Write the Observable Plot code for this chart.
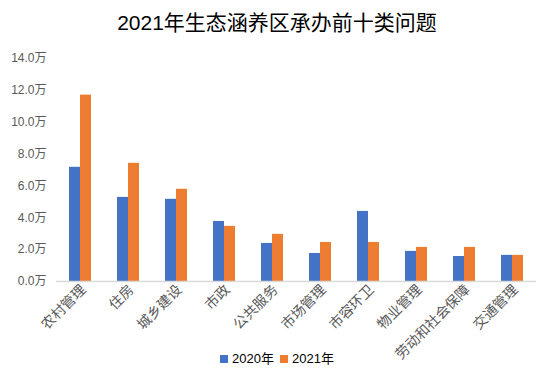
<!DOCTYPE html>
<html>
<head>
<meta charset="utf-8">
<script src="https://cdn.jsdelivr.net/npm/d3@7"></script>
<script src="https://cdn.jsdelivr.net/npm/@observablehq/plot@0.6"></script>
<style>
  html, body { margin: 0; padding: 0; background: #fff; }
  body { width: 554px; height: 381px; position: relative; overflow: hidden;
         font-family: "Liberation Sans", "Noto Sans CJK SC", sans-serif; }
  #title { height: 45px; line-height: 46px; text-align: center; font-size: 21px; color: #000; }
  #legend { position: absolute; left: 0; width: 554px; top: 350px; text-align: center;
            font-size: 13px; color: #000; line-height: 18px; }
  #legend span.sw { display: inline-block; width: 8px; height: 8px; margin-right: 4px; vertical-align: 0px; }
  #legend span.item { margin: 0 3px; }
</style>
</head>
<body>
<div id="title">2021年生态涵养区承办前十类问题</div>
<div id="chart"></div>
<div id="legend"></div>
<script>
const categories = ["农村管理", "住房", "城乡建设", "市政", "公共服务", "市场管理", "市容环卫", "物业管理", "劳动和社会保障", "交通管理"];
const years = ["2020年", "2021年"];
const values2020 = [7.17, 5.28, 5.16, 3.77, 2.39, 1.76, 4.40, 1.89, 1.57, 1.64];
const values2021 = [11.7, 7.42, 5.79, 3.46, 2.96, 2.45, 2.45, 2.14, 2.14, 1.64];
const yTicks = [0, 2, 4, 6, 8, 10, 12, 14];
const colors = ["#4472C4", "#ED7D31"];

const data = [];
categories.forEach((c, i) => {
  data.push({category: c, year: years[0], value: values2020[i]});
  data.push({category: c, year: years[1], value: values2021[i]});
});

const chart = Plot.plot({
  width: 554,
  height: 336,
  marginTop: 13,
  marginBottom: 100,
  marginLeft: 52,
  marginRight: 14,
  style: {fontFamily: "'Liberation Sans', 'Noto Sans CJK SC', sans-serif", fontSize: "11px", color: "#595959", background: "#fff"},
  fx: {domain: categories, padding: 0, label: null},
  x: {domain: years, paddingInner: 0, paddingOuter: 1.1, axis: null},
  y: {domain: [0, 14], label: null},
  color: {domain: years, range: colors},
  marks: [
    Plot.axisY({ticks: yTicks, tickSize: 0, tickPadding: 10, tickFormat: d => d.toFixed(1) + "万", fontSize: 12, label: null}),
    Plot.axisFx({anchor: "bottom", tickSize: 0, tickPadding: 6, dx: 3, tickRotate: -45, fontSize: 14, label: null, fontFamily: "'Noto Sans CJK SC', sans-serif"}),
    Plot.barY(data, {fx: "category", x: "year", y: "value", fill: "year"}),
    Plot.ruleY([0], {stroke: "#d9d9d9", strokeWidth: 1.5})
  ]
});
document.getElementById("chart").appendChild(chart);

const legend = document.getElementById("legend");
years.forEach((y, i) => {
  const item = document.createElement("span");
  item.className = "item";
  item.innerHTML = `<span class="sw" style="background:${colors[i]}"></span>${y}`;
  legend.appendChild(item);
});
</script>
</body>
</html>
